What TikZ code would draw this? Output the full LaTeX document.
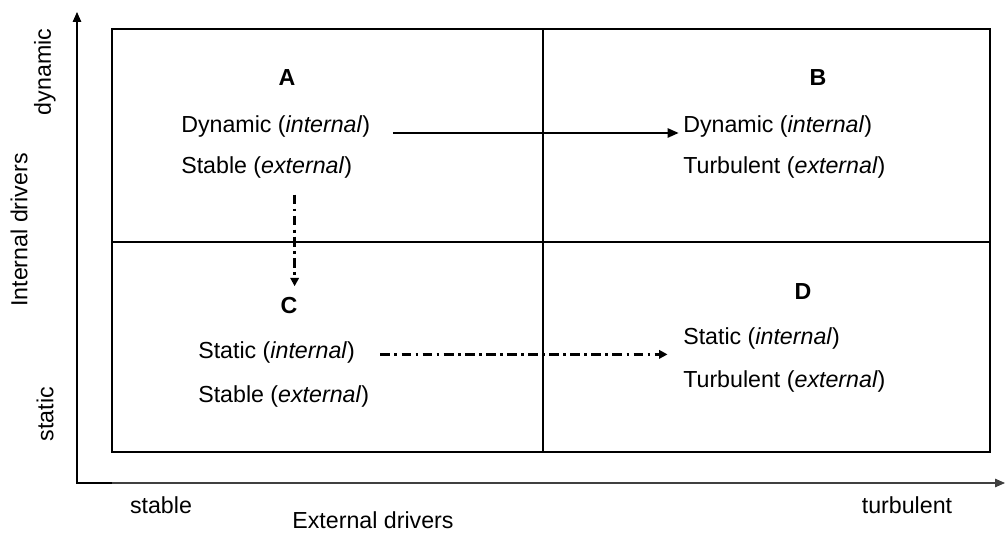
\documentclass[tikz,border=0pt]{standalone}
\usepackage{fontspec}
\setmainfont{Liberation Sans}
\usetikzlibrary{arrows.meta}
\tikzset{
	lbl/.style={inner sep=0pt, font=\fontsize{16.5}{19}\selectfont},
	quad/.style={lbl, anchor=base west},
	letter/.style={lbl, font=\fontsize{16.5}{19}\selectfont\bfseries},
	axislbl/.style={lbl, rotate=90},
	frame/.style={line width=1.1pt},
	flow/.style={line width=1.7pt, -{Triangle[length=8pt,width=6.5pt]}},
	dashdot/.style={line width=2.2pt, dash pattern=on 7pt off 3pt on 2pt off 3pt, -{Triangle[length=6pt,width=6pt]}}
}

\begin{document}
\begin{tikzpicture}[x=0.025cm, y=-0.025cm]
			%%%%% START %%%%%
			\useasboundingbox (0, 0) rectangle (1005, 536);
			
			% quadrants
			\draw[frame] (112, 29) rectangle (990, 452);
			\draw[frame] (543, 29) -- (543, 452);
			\draw[frame] (112, 242) -- (990, 242);
			
			% axes
			\coordinate (origin) at (77, 483);
			\coordinate (ytop) at (77, 12);
			\coordinate (xend) at (1005, 483);
			\draw[line width=0.8pt, -{Triangle[length=7pt,width=6pt]}] (origin) -- (ytop);
			\draw[line width=0.8pt, black!75, -{Triangle[length=7pt,width=6pt]}] (origin) -- (xend);
			\draw[line width=1.6pt] (77, 453) -- (origin) -- (112, 483);
			
			\node[axislbl] (dyn) at (45, 72) {dynamic};
			\node[axislbl] (intdrv) at (19, 230) {Internal drivers};
			\node[axislbl] (stat) at (45, 414) {static};
			\node[lbl] (stab) at (161, 505) {stable};
			\node[lbl] (turb) at (907, 505) {turbulent};
			\node[lbl] (extdrv) at (373, 520) {External drivers};
			
			% A
			\node[letter] (A) at (287, 78) {A};
			\node[quad] (dynA) at (181, 133) {Dynamic (\textit{internal})};
			\node[quad] (stabA) at (181, 174) {Stable (\textit{external})};
			
			% B
			\node[letter] (B) at (818, 78) {B};
			\node[quad] (dynB) at (683, 133) {Dynamic (\textit{internal})};
			\node[quad] (turbB) at (683, 174) {Turbulent (\textit{external})};
			
			% C
			\node[letter] (C) at (289, 306) {C};
			\node[quad] (statC) at (198, 359) {Static (\textit{internal})};
			\node[quad] (stabC) at (198, 403) {Stable (\textit{external})};
			
			% D
			\node[letter] (D) at (803, 292) {D};
			\node[quad] (statD) at (683, 345) {Static (\textit{internal})};
			\node[quad] (turbD) at (683, 388) {Turbulent (\textit{external})};
			
			% moves
			\draw[flow] ([xshift=16pt]dynA.base east) -- ([xshift=-3pt]dynB.base west);
			\draw[dashdot] ([xshift=4pt,yshift=-11pt]C.north |- stabA.south) -- ([xshift=4pt,yshift=8pt]C.north);
			\draw[dashdot] ([xshift=18pt,yshift=-1pt]statC.east) -- ([xshift=-11pt,yshift=-1pt]statC.east -| statD.west);
			
			%%%%% END %%%%%
\end{tikzpicture}
\end{document}
